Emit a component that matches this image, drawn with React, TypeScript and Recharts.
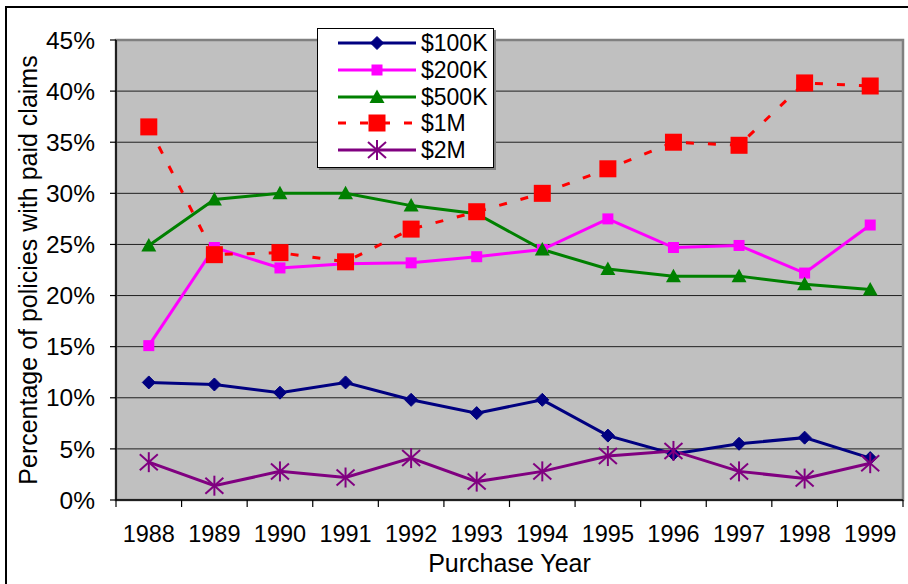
import React from 'react';
import { LineChart, Line, XAxis, YAxis, CartesianGrid, Legend, ReferenceArea } from 'recharts';

// ---- data ----
const years = ['1988', '1989', '1990', '1991', '1992', '1993', '1994', '1995', '1996', '1997', '1998', '1999'];
const s100K = [11.5, 11.3, 10.5, 11.5, 9.8, 8.5, 9.8, 6.3, 4.5, 5.5, 6.1, 4.1];
const s200K = [15.1, 24.7, 22.7, 23.1, 23.2, 23.8, 24.5, 27.5, 24.7, 24.9, 22.2, 26.9];
const s500K = [24.9, 29.4, 30.0, 30.0, 28.8, 28.0, 24.5, 22.6, 21.9, 21.9, 21.1, 20.6];
const s1M = [36.5, 24.0, 24.2, 23.3, 26.5, 28.2, 30.0, 32.4, 35.0, 34.7, 40.8, 40.5];
const s2M = [3.7, 1.4, 2.8, 2.2, 4.1, 1.8, 2.8, 4.3, 4.8, 2.8, 2.1, 3.6];
const yTicks = [0, 5, 10, 15, 20, 25, 30, 35, 40, 45];

const data = years.map((year, i) => ({
  year,
  k100: s100K[i],
  k200: s200K[i],
  k500: s500K[i],
  m1: s1M[i],
  m2: s2M[i],
}));

// ---- styles ----
const FONT = '"Liberation Sans", Arial, Helvetica, sans-serif';
const W = 908;
const H = 584;
const MARGIN = { top: 40, right: 5, left: 6, bottom: 44 };
const Y_AXIS_W = 110;
const PLOT_W = W - MARGIN.left - MARGIN.right - Y_AXIS_W;
const BAND = PLOT_W / years.length;

type Kind = 'diamond' | 'square' | 'triangle' | 'bigsquare' | 'star';

const series: { key: string; name: string; color: string; kind: Kind; dash?: string }[] = [
  { key: 'k100', name: '$100K', color: '#000080', kind: 'diamond' },
  { key: 'k200', name: '$200K', color: '#FF00FF', kind: 'square' },
  { key: 'k500', name: '$500K', color: '#008000', kind: 'triangle' },
  { key: 'm1', name: '$1M', color: '#FF0000', kind: 'bigsquare', dash: '8 14' },
  { key: 'm2', name: '$2M', color: '#800080', kind: 'star' },
];

function marker(kind: Kind, cx: number, cy: number, color: string, key?: string) {
  if (cx == null || cy == null) return <g key={key} />;
  switch (kind) {
    case 'diamond':
      return (
        <polygon
          key={key}
          points={`${cx},${cy - 6.5} ${cx + 6.5},${cy} ${cx},${cy + 6.5} ${cx - 6.5},${cy}`}
          fill={color}
          stroke={color}
        />
      );
    case 'square':
      return <rect key={key} x={cx - 5.5} y={cy - 5.5} width={11} height={11} fill={color} />;
    case 'triangle':
      return (
        <polygon
          key={key}
          points={`${cx},${cy - 7.5} ${cx + 7.5},${cy + 6} ${cx - 7.5},${cy + 6}`}
          fill={color}
        />
      );
    case 'bigsquare':
      return <rect key={key} x={cx - 8.5} y={cy - 8.5} width={17} height={17} fill={color} />;
    case 'star':
      return (
        <g key={key} stroke={color} strokeWidth={2}>
          <line x1={cx} y1={cy - 10} x2={cx} y2={cy + 10} />
          <line x1={cx - 9} y1={cy - 8} x2={cx + 9} y2={cy + 8} />
          <line x1={cx - 9} y1={cy + 8} x2={cx + 9} y2={cy - 8} />
        </g>
      );
  }
  return <g key={key} />;
}

const YearTick = (props: any) => {
  const { x, y, payload, index } = props;
  const axisY = y - 25;
  const left = x - BAND / 2;
  const right = x + BAND / 2;
  return (
    <g>
      <line x1={left} y1={axisY} x2={left} y2={axisY + 7} stroke="#000" strokeWidth={1.2} />
      {index === years.length - 1 && (
        <line x1={right} y1={axisY} x2={right} y2={axisY + 7} stroke="#000" strokeWidth={1.2} />
      )}
      <text x={x} y={y} dy="0.71em" textAnchor="middle" fontFamily={FONT} fontSize={23.5} fill="#000">
        {payload.value}
      </text>
    </g>
  );
};

const YLabel = (props: any) => {
  const vb = props.viewBox || { x: 6, y: 40, width: 110, height: 460 };
  const x = vb.x + 31;
  const y = vb.y + vb.height / 2;
  return (
    <text
      x={x}
      y={y}
      transform={`rotate(-90 ${x} ${y})`}
      textAnchor="middle"
      fontFamily={FONT}
      fontSize={25}
      fill="#000"
    >
      Percentage of policies with paid claims
    </text>
  );
};

const XLabel = (props: any) => {
  const vb = props.viewBox || { x: 116, y: 500, width: 787, height: 40 };
  const x = vb.x + vb.width / 2;
  return (
    <text x={x} y={572} textAnchor="middle" fontFamily={FONT} fontSize={25} fill="#000">
      Purchase Year
    </text>
  );
};

const LegendBox = (props: any) => {
  const payload = props.payload || [];
  const order = series.map((s) => s.key);
  const items = [...payload].sort(
    (a: any, b: any) => order.indexOf(a.dataKey) - order.indexOf(b.dataKey)
  );
  return (
    <div
      style={{
        width: 177,
        height: 140,
        background: '#fff',
        border: '1px solid #000',
        boxShadow: '2px 2px 0 #808080',
        boxSizing: 'border-box',
        paddingTop: 1,
        fontFamily: FONT,
        fontSize: 23,
        color: '#000',
      }}
    >
      {items.map((entry: any, i: number) => {
        const cfg = series.find((s) => s.key === entry.dataKey)!;
        return (
          <div key={i} style={{ display: 'flex', alignItems: 'center', height: 26.7, paddingLeft: 20 }}>
            <svg width={80} height={24} style={{ display: 'block' }}>
              <line
                x1={0}
                y1={12}
                x2={78}
                y2={12}
                stroke={cfg.color}
                strokeWidth={3}
                strokeDasharray={cfg.dash}
              />
              {marker(cfg.kind, 39, 12, cfg.color)}
            </svg>
            <span style={{ marginLeft: 3, lineHeight: '24px' }}>{entry.value}</span>
          </div>
        );
      })}
    </div>
  );
};

export default function App() {
  return (
    <div
      style={{
        position: 'absolute',
        left: 0,
        top: 0,
        width: W,
        height: H,
        overflow: 'hidden',
        background: '#fff',
      }}
    >
      <div
        style={{
          position: 'absolute',
          left: 5,
          top: 6,
          width: W + 20,
          height: H + 20,
          borderLeft: '2px solid #000',
          borderTop: '2px solid #000',
        }}
      />
      <div style={{ position: 'absolute', left: 0, top: 0 }}>
        <LineChart width={W} height={H} data={data} margin={MARGIN}>
          <CartesianGrid vertical={false} fill="#C0C0C0" fillOpacity={1} stroke="#202020" strokeWidth={1} />
          <ReferenceArea
            y1={0}
            y2={45}
            fill="none"
            stroke="#808080"
            strokeWidth={2.5}
            ifOverflow="extendDomain"
          />
          <XAxis
            dataKey="year"
            scale="band"
            interval={0}
            height={40}
            tickSize={7}
            tickMargin={18}
            tickLine={false}
            axisLine={{ stroke: '#000', strokeWidth: 1.5 }}
            tick={<YearTick />}
            label={<XLabel />}
          />
          <YAxis
            domain={[0, 45]}
            ticks={yTicks}
            interval={0}
            width={Y_AXIS_W}
            tickSize={6}
            tickMargin={15}
            tickFormatter={(v: number) => `${v}%`}
            tick={{ fontFamily: FONT, fontSize: 24.5, fill: '#000' }}
            tickLine={{ stroke: '#000', strokeWidth: 1.2 }}
            axisLine={{ stroke: '#000', strokeWidth: 1.5 }}
            label={<YLabel />}
          />
          <Legend
            layout="vertical"
            align="center"
            verticalAlign="middle"
            content={<LegendBox />}
            wrapperStyle={{ position: 'absolute', left: 317, top: 28, width: 177, height: 140 }}
          />
          {series.map((s) => (
            <Line
              key={s.key}
              type="linear"
              dataKey={s.key}
              name={s.name}
              stroke={s.color}
              strokeWidth={3}
              strokeDasharray={s.dash}
              isAnimationActive={false}
              activeDot={false}
              dot={(p: any) => marker(s.kind, p.cx, p.cy, s.color, `${s.key}-${p.index}`)}
            />
          ))}
        </LineChart>
      </div>
    </div>
  );
}
